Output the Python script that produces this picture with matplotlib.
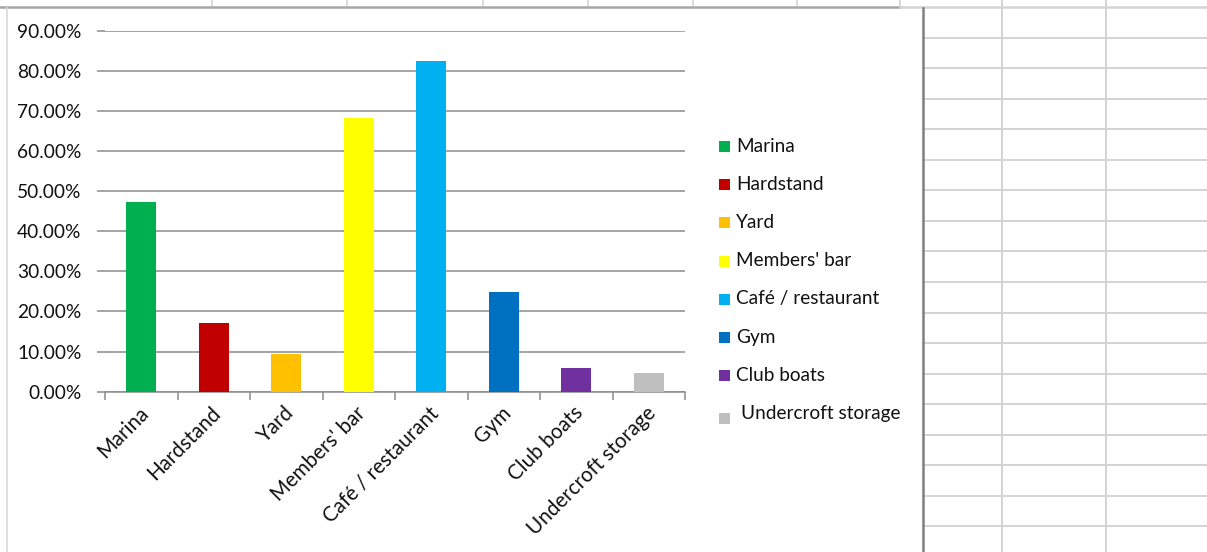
import numpy as np
import matplotlib
matplotlib.use("Agg")
import matplotlib.pyplot as plt
import matplotlib.transforms as mtransforms
from matplotlib.patches import Rectangle
from matplotlib.ticker import FuncFormatter

plt.rcParams['font.family'] = ['Lato', 'DejaVu Sans']

# data
categories = ['Marina', 'Hardstand', 'Yard', "Members' bar", 'Café / restaurant',
              'Gym', 'Club boats', 'Undercroft storage']
shares = [0.473, 0.171, 0.094, 0.682, 0.824, 0.248, 0.059, 0.047]
colors = ['#00B050', '#C00000', '#FFC000', '#FFFF00', '#00B0F0',
          '#0070C0', '#7030A0', '#BFBFBF']

W, H = 1207, 552
fig = plt.figure(figsize=(W / 100, H / 100), dpi=100)

# spreadsheet background (pixel coords)
bg = fig.add_axes([0, 0, 1, 1], zorder=0)
bg.set_xlim(0, W)
bg.set_ylim(H, 0)
bg.axis('off')
light = '#d4d4d4'
for x in [212, 347, 483, 588, 693, 797, 900]:
    bg.plot([x, x], [0, 7], color=light, lw=1.2)
bg.plot([0, 900], [7, 7], color='#a6a6a6', lw=1.8)
bg.plot([900, W], [7, 7], color=light, lw=1.8)
for y in np.arange(7 + 30.55, H, 30.55):
    bg.plot([923, W], [y, y], color=light, lw=1.4)
for x in [1002, 1106]:
    bg.plot([x, x], [0, H], color=light, lw=1.4)
bg.plot([7, 7], [8, H], color='#d9d9d9', lw=1.2)
bg.plot([923, 923], [8, H], color='#808080', lw=1.8)

# main chart
ax = fig.add_axes([105 / W, 1 - 391.7 / H, 580 / W, 361.2 / H], zorder=1)
ax.patch.set_alpha(0)
x = np.arange(len(categories))
ax.bar(x, shares, width=0.41, color=colors, zorder=3)
ax.set_xlim(-0.5, len(categories) - 0.5)
ax.set_ylim(0, 0.9)
ax.set_yticks(np.arange(0, 0.91, 0.1))
ax.yaxis.set_major_formatter(FuncFormatter(lambda v, p: '%.2f%%' % (v * 100)))
grid_c = '#8c8c8c'
ax.grid(axis='y', color=grid_c, lw=1.1, zorder=1)
for s in ['top', 'right', 'left']:
    ax.spines[s].set_visible(False)
ax.spines['bottom'].set_color(grid_c)
ax.spines['bottom'].set_linewidth(1.1)
ax.tick_params(axis='y', length=6, color=grid_c, width=1.1, pad=11,
               labelsize=13.8, labelcolor='#111111')
ax.set_xticks(x)
ax.set_xticklabels(categories, rotation=45, ha='right', va='center',
                   rotation_mode='anchor', fontsize=14.8, color='#111111')
ax.tick_params(axis='x', which='major', length=0, pad=13)
shift = mtransforms.ScaledTranslation(4 / 100, 0, fig.dpi_scale_trans)
for lbl in ax.get_xticklabels():
    lbl.set_transform(lbl.get_transform() + shift)
ax.set_xticks(np.arange(-0.5, len(categories)), minor=True)
ax.tick_params(axis='x', which='minor', length=6, color=grid_c, width=1.1)

# legend
for i, (name, c) in enumerate(zip(categories, colors)):
    yc = 146 + i * 38.2
    last = i == len(categories) - 1
    my = yc + (5 if last else 0)
    bg.add_patch(Rectangle((718.5, my - 5), 11, 11, color=c, lw=0))
    bg.text(736 + (5 if last else 0), yc, name,
            fontsize=13.7, va='center', ha='left', color='#111111')

fig.savefig('out.png', dpi=100)
